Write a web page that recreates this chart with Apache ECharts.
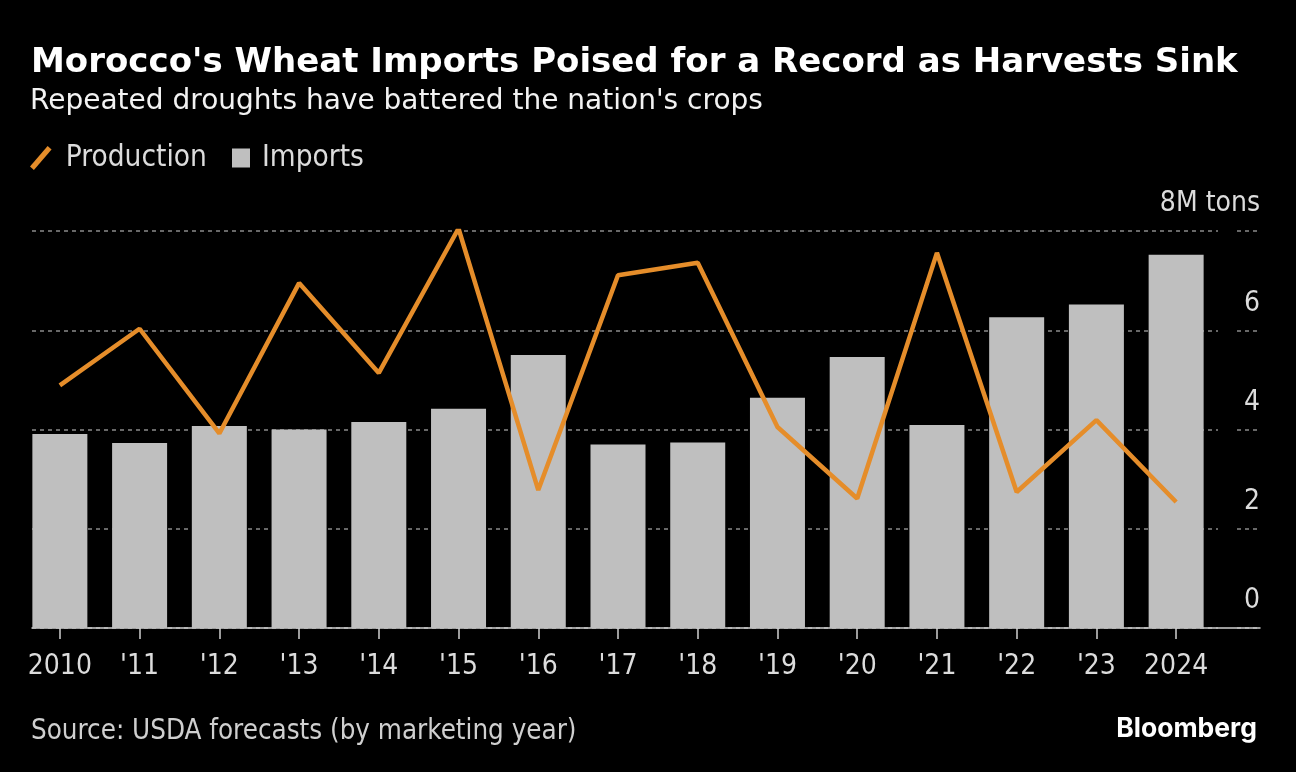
<!DOCTYPE html>
<html>
<head>
<meta charset="utf-8">
<script src="https://cdn.jsdelivr.net/npm/echarts@6/dist/echarts.min.js"></script>
<style>
html,body{margin:0;padding:0;background:#000;}
#chart{width:1296px;height:772px;}
</style>
</head>
<body>
<div id="chart"></div>
<script>
const categories = ['2010', "'11", "'12", "'13", "'14", "'15", "'16", "'17", "'18", "'19", "'20", "'21", "'22", "'23", '2024'];
const imports = [3.91, 3.73, 4.07, 4.00, 4.15, 4.42, 5.50, 3.70, 3.74, 4.64, 5.46, 4.09, 6.26, 6.52, 7.52];
const production = [4.89, 6.03, 3.92, 6.95, 5.14, 8.05, 2.78, 7.11, 7.36, 4.05, 2.61, 7.56, 2.74, 4.19, 2.54];
const yTicks = [0, 2, 4, 6, 8];

const FONT = '"DejaVu Sans Condensed", "DejaVu Sans", sans-serif';
const FONT_WIDE = '"DejaVu Sans", sans-serif';
const ORANGE = '#e58d2a';
const BAR = '#bfbfbf';
const GRID_TOP = 231, GRID_H = 397;

const chart = echarts.init(document.getElementById('chart'), null, {renderer: 'canvas'});
const yBase = {type: 'value', min: 0, max: 8, interval: 2};
chart.setOption({
  backgroundColor: '#000',
  animation: false,
  title: [
    {text: "Morocco's Wheat Imports Poised for a Record as Harvests Sink", left: 26, top: 41,
     textStyle: {color: '#fff', fontFamily: FONT_WIDE, fontWeight: 'bold', fontSize: 34}},
    {text: "Repeated droughts have battered the nation's crops", left: 25, top: 83,
     textStyle: {color: '#f2f2f2', fontFamily: FONT_WIDE, fontWeight: 'normal', fontSize: 28}},
    {text: 'Source: USDA forecasts (by marketing year)', left: 26, top: 713,
     textStyle: {color: '#cfcfcf', fontFamily: FONT, fontWeight: 'normal', fontSize: 27.5}},
    {text: 'Bloomberg', right: 34, top: 711,
     textStyle: {color: '#fff', fontFamily: 'Inter, Roboto, sans-serif', fontWeight: 'bold', fontSize: 26.5}}
  ],
  legend: [
    {data: [{name: 'Production', icon: 'path://M0,21 L18,0 L22,3.5 L4,24.5 Z'}], left: 30, top: 143, padding: 0,
     itemWidth: 22, itemHeight: 24, selectedMode: false,
     textStyle: {color: '#dcdcdc', fontFamily: FONT, fontSize: 29.5, padding: [0, 0, 0, 9]}},
    {data: [{name: 'Imports', icon: 'rect'}], left: 232, top: 143, padding: 0,
     itemWidth: 18, itemHeight: 19, selectedMode: false,
     textStyle: {color: '#dcdcdc', fontFamily: FONT, fontSize: 29.5, padding: [0, 0, 0, 7]}}
  ],
  grid: [
    {left: 32, width: 1228, top: GRID_TOP, height: GRID_H},
    {left: 32, width: 1186, top: GRID_TOP, height: GRID_H},
    {left: 1237, width: 22, top: GRID_TOP, height: GRID_H},
    {left: 20, width: 1196, top: GRID_TOP, height: GRID_H}
  ],
  xAxis: [
    {gridIndex: 0, type: 'value', min: 0, max: 1, show: true, axisLine: {show: true, onZero: false, lineStyle: {color: '#cfcfcf', width: 1.5}},
     axisTick: {show: false}, axisLabel: {show: false}, splitLine: {show: false}},
    {gridIndex: 1, type: 'value', min: 0, max: 1, show: false},
    {gridIndex: 2, type: 'value', min: 0, max: 1, show: false},
    {gridIndex: 3, type: 'category', data: categories, boundaryGap: true,
     axisLine: {show: false},
     axisTick: {show: true, alignWithLabel: true, length: 11, lineStyle: {color: '#cfcfcf', width: 1.5}},
     axisLabel: {color: '#dcdcdc', fontFamily: FONT, fontSize: 28, margin: 25, interval: 0}}
  ],
  yAxis: [
    Object.assign({gridIndex: 0, position: 'right', axisLine: {show: false}, axisTick: {show: false}, splitLine: {show: false},
     axisLabel: {inside: true, margin: 0, color: '#dcdcdc', fontFamily: FONT, fontSize: 28, verticalAlign: 'bottom', lineHeight: 28, padding: [0, 0, 13, 0],
       formatter: v => (v === yTicks[yTicks.length - 1] ? v + 'M tons' : String(v))}}, yBase),
    Object.assign({gridIndex: 1, axisLine: {show: false}, axisTick: {show: false}, axisLabel: {show: false},
     splitLine: {show: true, lineStyle: {color: '#8a8a8a', width: 1.5, type: [4, 4]}}}, yBase),
    Object.assign({gridIndex: 2, axisLine: {show: false}, axisTick: {show: false}, axisLabel: {show: false},
     splitLine: {show: true, lineStyle: {color: '#8a8a8a', width: 1.5, type: [4, 4]}}}, yBase),
    Object.assign({gridIndex: 3, show: false}, yBase)
  ],
  series: [
    {name: 'Imports', type: 'bar', xAxisIndex: 3, yAxisIndex: 3, data: imports, barWidth: 55,
     itemStyle: {color: BAR}, z: 2},
    {name: 'Production', type: 'line', xAxisIndex: 3, yAxisIndex: 3, data: production,
     showSymbol: false, symbol: 'none', color: ORANGE,
     lineStyle: {color: ORANGE, width: 4.5}, itemStyle: {color: ORANGE}, z: 4}
  ]
});
</script>
</body>
</html>
